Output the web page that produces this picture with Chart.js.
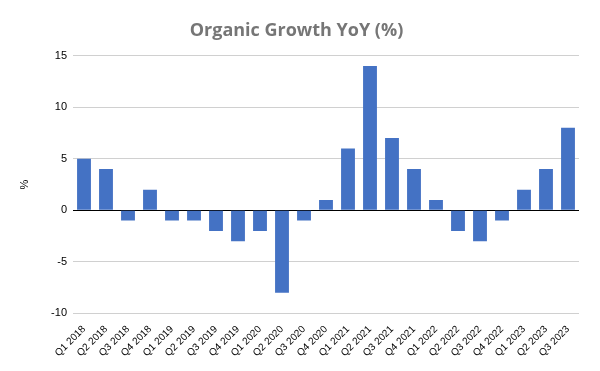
<!DOCTYPE html>
<html><head><meta charset="utf-8">
<script src="https://cdn.jsdelivr.net/npm/chart.js@4"></script>
<style>html,body{margin:0;padding:0;background:#fff}canvas{display:block}</style>
</head><body>
<canvas id="c" width="600" height="371"></canvas>
<script>
const categories = ["Q1 2018","Q2 2018","Q3 2018","Q4 2018","Q1 2019","Q2 2019","Q3 2019","Q4 2019","Q1 2020","Q2 2020","Q3 2020","Q4 2020","Q1 2021","Q2 2021","Q3 2021","Q4 2021","Q1 2022","Q2 2022","Q3 2022","Q4 2022","Q1 2023","Q2 2023","Q3 2023"];
const growth = [5,4,-1,2,-1,-1,-2,-3,-2,-8,-1,1,6,14,7,4,1,-2,-3,-1,2,4,8];
const yTicks = [-10,-5,0,5,10,15];

new Chart(document.getElementById('c'), {
  type: 'bar',
  data: { labels: categories, datasets: [{ data: growth, backgroundColor: '#4472C4', categoryPercentage: 1, barPercentage: 0.63 }] },
  options: {
    responsive: false, animation: false,
    layout: { padding: { left: 14, right: 21, top: 12, bottom: 10 } },
    plugins: {
      legend: { display: false }, tooltip: { enabled: false },
      title: { display: true, text: 'Organic Growth YoY (%)', color: '#767676', font: { family: 'Open Sans', size: 18, weight: 'bold' }, padding: { top: 8, bottom: 14 } }
    },
    scales: {
      x: {
        grid: { display: false }, border: { display: false },
        ticks: { color: '#000', maxRotation: 45, minRotation: 45, autoSkip: false, font: { family: 'Liberation Sans', size: 10 }, padding: 2 }
      },
      y: {
        min: -10, max: 15,
        afterBuildTicks: (s) => { s.ticks = yTicks.map(v => ({ value: v })); },
        afterFit: (s) => { s.width = 59; },
        grid: { color: (ctx) => ctx.tick && ctx.tick.value === 0 ? '#000' : '#d0d0d0', lineWidth: 1, drawTicks: false },
        border: { display: false },
        ticks: { color: '#000', font: { family: 'Liberation Sans', size: 11 }, padding: 6 },
        title: { display: true, text: '%', color: '#000', font: { family: 'Liberation Sans', size: 11 }, padding: { bottom: 14 } }
      }
    }
  }
});
</script>
</body></html>
